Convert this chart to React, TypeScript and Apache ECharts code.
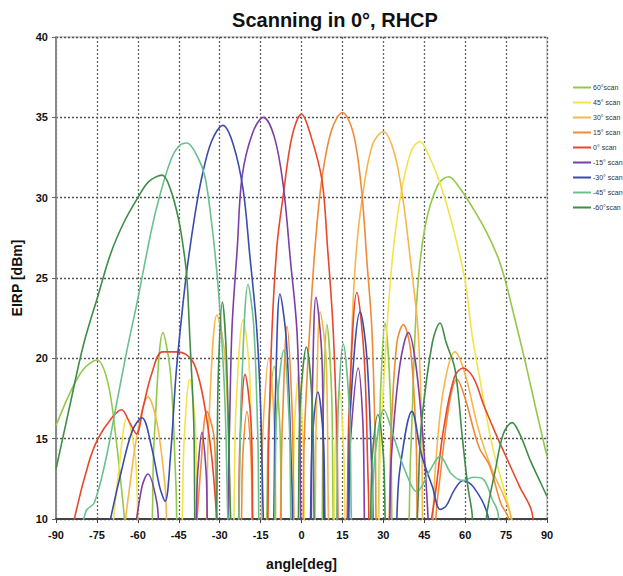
import React, { useEffect, useRef } from "react";
import * as echarts from "echarts";

// [angle deg, EIRP dBm] — values below 10 run off the bottom of the axis (nulls)
const scan60: [number, number][] = [
  [-90, 15.8], [-85, 17.8], [-80, 19.3], [-75, 19.9], [-71, 18.5], [-68, 15], [-65, 10.2], [-64, 8],
  [-56, 8], [-54, 15], [-50.8, 21.6], [-48, 19], [-46, 12], [-45, 8],
  [-14, 8], [-12, 16], [-10, 19.5], [-8, 16], [-6.5, 8],
  [7, 8], [8, 17], [9.3, 22.1], [11, 18], [12.5, 8],
  [27, 8], [29, 18], [30.6, 22.2], [32.5, 18], [34, 8],
  [38, 8], [40, 14], [42.3, 23.7], [45.3, 28.2], [50, 30.8], [54, 31.3], [58, 30.6], [63, 29.3],
  [68, 27.8], [72, 26.3], [74.6, 24.9], [78, 22.6], [82, 19.8], [86, 16.8], [90, 13.9],
];
const scan45: [number, number][] = [
  [-70, 8], [-67, 13], [-64, 16.3], [-61, 14], [-58, 8],
  [-45, 8], [-43, 15], [-41, 18.7], [-39, 16], [-37, 8],
  [-26, 8], [-24, 17], [-21.4, 22.4], [-19, 19], [-17, 8],
  [-4, 8], [-2.5, 16], [-1, 19], [0.5, 15], [2, 8],
  [11, 8], [12.5, 15], [14, 18], [15.5, 14], [17, 8],
  [27, 8], [29, 15], [31.3, 21.8], [33.5, 26.5], [36.1, 29.9], [40, 32.8], [43.4, 33.5],
  [47, 32.5], [50.8, 30.9], [55, 28.5], [59.9, 24.9], [62.5, 21.5], [65.4, 18.7], [70, 14.5],
  [74, 12], [77, 10], [78, 8],
];
const scan30: [number, number][] = [
  [-66, 8], [-63, 12], [-60, 15.5], [-56.3, 17.6], [-53, 16], [-50, 12], [-48, 8],
  [-36, 8], [-34, 16], [-31, 22.7], [-28, 20], [-26, 10], [-25.5, 8],
  [-16, 8], [-14, 16], [-12, 20], [-10, 16], [-8.5, 8],
  [4, 8], [5.5, 17], [6.8, 22.9], [9, 20], [11, 8],
  [16, 8], [17.5, 15], [18.5, 21.8], [20, 26.5], [22.2, 29.9], [26, 33.3], [30, 34.1],
  [34, 32.8], [37.2, 29.9], [40, 26], [42.7, 21.8], [44, 16], [45, 8],
  [47, 8], [49, 13], [52, 18], [56.3, 20.4], [60, 19], [65, 15.5], [70, 13], [74, 11.5], [77, 10], [78, 8],
];
const scan15: [number, number][] = [
  [-39, 8], [-37, 13], [-34.7, 16.7], [-32, 15], [-30, 8],
  [-23, 8], [-21.5, 14], [-20, 16.7], [-18.5, 14], [-17, 8],
  [-9, 8], [-7, 16], [-5.3, 22], [-3.5, 17], [-2, 8],
  [0, 8], [1, 15], [3, 21.8], [5, 27], [7.5, 31.2], [11, 34.2], [15, 35.3], [19, 34],
  [22, 30.5], [24, 26], [25.8, 21.8], [27, 15], [28, 8],
  [31, 8], [33, 16], [35, 21], [37.3, 22.1], [40, 20.5], [42, 15], [43, 8],
  [47, 8], [50, 11.5], [54, 17], [57, 18.7], [60, 17.5], [65, 14.5], [69, 13.3], [73, 11], [76, 10], [77, 8],
];
const scan0: [number, number][] = [
  [-85, 8], [-83, 10.2], [-78, 13.5], [-74.6, 15], [-70, 16.2], [-66, 16.8], [-63, 16],
  [-60.5, 15.3], [-58, 17], [-55, 19], [-51, 20.4], [-46, 20.4], [-42, 20.2], [-39, 19.5],
  [-36, 17.5], [-33, 14], [-31, 10], [-30, 8],
  [-24, 8], [-22.5, 15], [-20.7, 19], [-18.5, 16], [-17, 8],
  [-13, 8], [-12, 15], [-10.8, 21.8], [-9, 27], [-6.8, 30], [-3.5, 33.8], [0, 35.2],
  [3.5, 33.8], [7.5, 31.1], [9.5, 27], [11.6, 21.8], [13, 15], [14, 8],
  [16, 8], [17.5, 17], [20.3, 24.1], [23, 20], [24.5, 12], [25.5, 8],
  [44, 8], [48, 10.4], [52, 15.5], [56, 18.8], [59.2, 19.4], [63, 18.8], [67, 17], [72, 15],
  [76, 13.5], [80, 12], [84.5, 10.4], [85.5, 8],
];
const scanM15: [number, number][] = [
  [-62, 8], [-58.5, 12], [-56.3, 12.8], [-53, 11], [-51, 8],
  [-40, 8], [-38, 13], [-36.5, 15.4], [-35, 13], [-33.5, 8],
  [-28, 8], [-26.5, 15], [-25.5, 21.8], [-23.5, 27], [-21.8, 31.3], [-18, 34], [-14, 35],
  [-10, 33.8], [-6.8, 30.9], [-4, 26], [-1.7, 21.8], [-0.7, 16.4], [0.5, 8],
  [3, 8], [4, 18], [5.3, 23.8], [7.5, 20], [9, 8],
  [16, 8], [18, 15], [20.8, 19.4], [22.5, 16], [24, 8],
  [31, 8], [33, 14], [36, 19.5], [39.2, 21.6], [42, 19.5], [45, 14], [47, 8],
];
const scanM30: [number, number][] = [
  [-72, 8], [-70, 10], [-66, 13], [-62, 15.5], [-58.5, 16.3], [-55, 14.5], [-52, 12], [-50, 11.1],
  [-48, 14], [-46, 19], [-44, 22.5], [-42, 25.5], [-39, 29], [-36.5, 31.3], [-33, 33.5],
  [-28.8, 34.5], [-25, 33.3], [-21.4, 30.5], [-19, 26.5], [-16.4, 21.8], [-15, 17], [-14, 10], [-13.5, 8],
  [-11, 8], [-9.5, 18], [-7.9, 24], [-5.5, 21], [-3.5, 12], [-3, 8],
  [2, 8], [4, 15], [6, 17.9], [8, 15], [9.5, 8],
  [16, 8], [18, 17], [21.5, 22.9], [24, 20], [26, 12], [27, 8],
  [33, 8], [36, 13], [40.5, 16.7], [44, 14], [48, 12], [50.8, 10.6], [53, 10.8], [56, 11.8],
  [59.2, 12.4], [63, 12], [68, 10.4], [70, 8],
];
const scanM45: [number, number][] = [
  [-82, 8], [-79, 10.5], [-76, 11], [-72, 13.5], [-68, 17], [-64, 20.5], [-60, 23.7], [-55, 28],
  [-52, 30.1], [-48, 32.3], [-45, 33.2], [-42, 33.4], [-38, 32.5], [-35.4, 31.3], [-33, 28.5],
  [-31, 25.3], [-29.5, 22], [-28, 17], [-27, 10], [-26.5, 8],
  [-24, 8], [-22, 18], [-19.6, 24.6], [-17.5, 22], [-16, 15], [-15, 8],
  [-11, 8], [-9, 17], [-6.5, 20.5], [-4.5, 16], [-3, 8],
  [12, 8], [13.5, 17], [15.3, 20.9], [17.5, 17], [19.5, 8],
  [24, 8], [27, 14], [30.2, 16.8], [34, 15], [38, 13], [42.3, 11.7], [47, 13], [50.8, 13.9],
  [55, 12.8], [59.2, 12.4], [63, 12.6], [66.5, 12.5], [70, 11.2], [72, 10.4], [73, 8],
];
const scanM60: [number, number][] = [
  [-90, 13.1], [-85, 17], [-80, 20.8], [-74.6, 23.9], [-70, 26.5], [-65, 28.5], [-60, 30],
  [-56, 31], [-51.1, 31.4], [-48, 30.5], [-45, 28.6], [-43, 26.5], [-42, 25], [-41, 21.5],
  [-39.5, 16], [-38.5, 8],
  [-32, 8], [-30.5, 19], [-29, 23.5], [-27.5, 20], [-26, 10], [-25.5, 8],
  [-2, 8], [-0.5, 17], [1.8, 20.7], [4, 17], [5.5, 8],
  [24, 8], [26, 14], [28, 16.5], [30, 14], [32, 8],
  [40, 8], [44, 16], [48, 21], [50.8, 22.2], [53, 21], [56.3, 19.3], [59, 15], [61, 12], [62.5, 10.4], [63.5, 8],
  [66.5, 8], [68, 10.4], [71, 13], [74, 15.3], [77.2, 16], [80, 15.3], [84, 13.6], [87, 12.5], [90, 11.4],
];

const seriesNames = ["60°scan", "45° scan", "30° scan", "15° scan", "0° scan", "-15° scan", "-30° scan", "-45° scan", "-60°scan"];
const seriesData = [scan60, scan45, scan30, scan15, scan0, scanM15, scanM30, scanM45, scanM60];
const seriesColors = ["#93c94a", "#f2e34c", "#f7b64c", "#f08a38", "#e8472e", "#7d3fa3", "#3a4cae", "#6cc08e", "#3f8d48"];

const xTicks = [-90, -75, -60, -45, -30, -15, 0, 15, 30, 45, 60, 75, 90];
const yTicks = [10, 15, 20, 25, 30, 35, 40];

const FONT = "'Liberation Sans Narrow', 'Liberation Sans', Arial, sans-serif";

export default function App() {
  const ref = useRef<HTMLDivElement>(null);
  useEffect(() => {
    document.body.style.margin = "0";
    const chart = echarts.init(ref.current!, undefined, { renderer: "svg" });
    chart.setOption({
      animation: false,
      backgroundColor: "#ffffff",
      title: {
        text: "Scanning in 0°, RHCP",
        left: 330,
        textAlign: "center",
        top: 5,
        textStyle: { fontFamily: FONT, fontSize: 20, fontWeight: "bold", color: "#111" },
      },
      legend: {
        orient: "vertical",
        left: 568,
        top: 79,
        icon: "rect",
        itemWidth: 18,
        itemHeight: 2,
        itemGap: 8,
        data: seriesNames,
        textStyle: { fontFamily: FONT, fontSize: 7, color: "#333", padding: [0, 0, 0, -3] },
      },
      grid: { left: 56, right: 76, top: 37, bottom: 56, show: true, borderColor: "#b0b0b0", borderWidth: 1 },
      xAxis: {
        type: "value",
        min: xTicks[0],
        max: xTicks[xTicks.length - 1],
        interval: 15,
        name: "angle[deg]",
        nameLocation: "middle",
        nameGap: 38,
        nameTextStyle: { fontFamily: FONT, fontSize: 14, fontWeight: "bold", color: "#111" },
        axisLine: { show: true, onZero: false, lineStyle: { color: "#444", width: 2 } },
        axisTick: { show: true, length: 4, lineStyle: { color: "#444" } },
        axisLabel: {
          fontFamily: FONT, fontSize: 11, fontWeight: "bold", color: "#111", margin: 10,
          formatter: (v: number) => (xTicks.includes(v) ? String(v) : ""),
        },
        splitLine: { show: true, lineStyle: { color: "#666", type: [2, 2], width: 1.3 } },
      },
      yAxis: {
        type: "value",
        min: yTicks[0],
        max: yTicks[yTicks.length - 1],
        interval: 5,
        name: "EIRP [dBm]",
        nameLocation: "middle",
        nameGap: 32,
        nameTextStyle: { fontFamily: FONT, fontSize: 14, fontWeight: "bold", color: "#111" },
        axisLine: { show: true, onZero: false, lineStyle: { color: "#8a8a8a", width: 2 } },
        axisTick: { show: true, length: 4, lineStyle: { color: "#666" } },
        axisLabel: { fontFamily: FONT, fontSize: 11, fontWeight: "bold", color: "#111", margin: 8 },
        splitLine: { show: true, lineStyle: { color: "#555", type: [2, 2], width: 1.3 } },
      },
      series: seriesNames.map((name, i) => ({
        name,
        type: "line",
        data: seriesData[i],
        smooth: 0.35,
        showSymbol: false,
        symbol: "none",
        clip: true,
        color: seriesColors[i],
        lineStyle: { width: 1.6, color: seriesColors[i] },
      })),
    });
    return () => chart.dispose();
  }, []);
  return <div ref={ref} style={{ width: 623, height: 576 }} />;
}
